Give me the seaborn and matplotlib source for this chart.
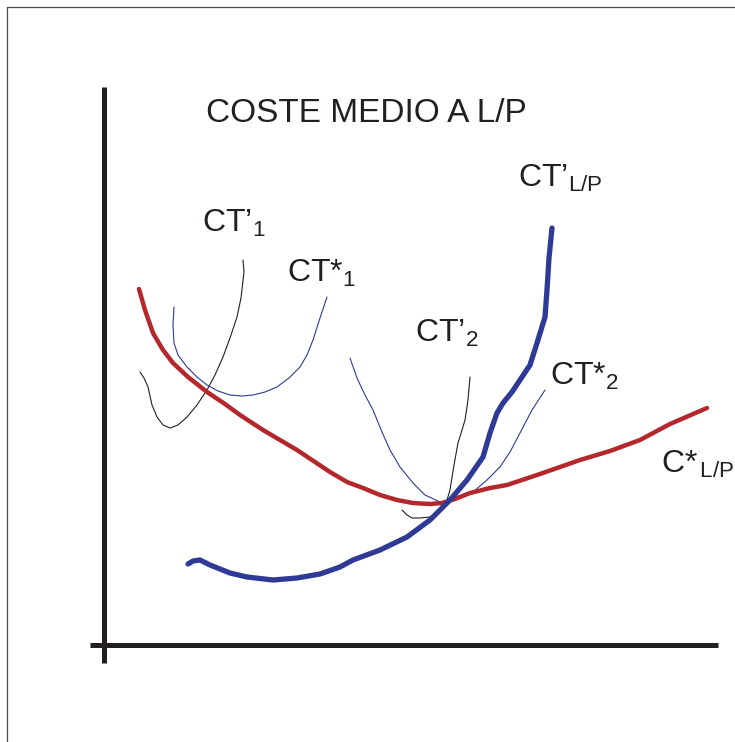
import matplotlib
matplotlib.use("Agg")
import matplotlib.pyplot as plt
import seaborn as sns

sns.set_theme(style="white")
plt.rcParams['font.family'] = ['Liberation Sans', 'DejaVu Sans']
plt.rcParams['mathtext.fontset'] = 'custom'
plt.rcParams['mathtext.rm'] = 'Liberation Sans'
plt.rcParams['mathtext.it'] = 'Liberation Sans'

# posiciones (x a la derecha, y hacia abajo)
marco_x = [7, 7, 735]
marco_y = [742, 7, 7]

eje_v_x = [104, 104]
eje_v_y = [87, 663]
eje_h_x = [90, 718]
eje_h_y = [645, 645]

# C*_L/P (rojo)
rojo_x = [139, 145, 153, 163, 173, 188, 207, 225, 240, 263, 297, 330, 347, 363, 380, 397, 413,
          430, 442, 455, 470, 490, 507, 540, 580, 610, 640, 670, 707]
rojo_y = [289, 310, 333, 350, 363, 377, 392, 404, 415, 430, 450, 472, 482, 488, 495, 500, 503,
          504, 503, 499, 493, 488, 485, 474, 460, 451, 440, 424, 408]

# CT'_L/P (azul grueso)
azul_x = [188, 193, 200, 210, 230, 247, 273, 297, 320, 340, 353, 380, 407, 430, 450, 467, 483,
          490, 497, 503, 512, 520, 530, 537, 541, 545, 547, 549, 552]
azul_y = [564, 561, 560, 565, 573, 577, 580, 578, 574, 567, 560, 550, 537, 520, 500, 480, 457,
          433, 413, 403, 392, 380, 365, 343, 330, 317, 290, 258, 228]

# CT'_1 (negro fino)
ct1p_x = [140, 144, 148, 152, 157, 163, 170, 178, 187, 197, 207, 215, 223, 230, 237, 241, 244, 243]
ct1p_y = [372, 378, 387, 405, 417, 425, 428, 425, 417, 405, 390, 375, 357, 338, 317, 298, 272, 260]

# CT*_1 (azul fino)
ct1s_x = [174, 173, 174, 178, 187, 197, 207, 218, 230, 242, 253, 265, 277, 289, 300, 307, 313,
          320, 327]
ct1s_y = [307, 325, 343, 355, 367, 377, 385, 391, 395, 396, 395, 392, 387, 378, 367, 355, 340,
          318, 297]

# CT*_2 (azul fino)
ct2s_x = [350, 357, 365, 373, 382, 390, 400, 413, 425, 440, 455, 473, 487, 500, 510, 520, 532, 545]
ct2s_y = [358, 378, 395, 410, 432, 450, 467, 483, 495, 502, 500, 492, 480, 467, 452, 433, 410, 390]

# CT'_2 (negro fino)
ct2p_x = [402, 407, 412, 420, 430, 440, 447, 450, 454, 458, 462, 465, 468, 470]
ct2p_y = [510, 515, 518, 518, 517, 510, 500, 490, 465, 443, 430, 420, 400, 377]

etiquetas = ["CT’$_{\\mathrm{1}}$", "CT*$_{\\mathrm{1}}$", "CT’$_{\\mathrm{2}}$",
             "CT*$_{\\mathrm{2}}$", "CT’$_{\\mathrm{L/P}}$", "C*$_{\\,\\mathrm{L/P}}$"]
etiq_x = [202, 287, 415, 550, 518, 661]
etiq_y = [232, 282, 342, 385, 187, 473]

titulo = "COSTE MEDIO A L/P"

NEGRO = "#231F20"
ROJO = "#B3272D"
AZUL = "#2E3A96"

fig = plt.figure(figsize=(7.35, 7.42), dpi=100)
ax = fig.add_axes([0, 0, 1, 1])
ax.set_xlim(0, 735)
ax.set_ylim(742, 0)
ax.axis("off")

ax.plot(marco_x, marco_y, color="#4a4a4a", lw=0.9)

ax.plot(eje_v_x, eje_v_y, color=NEGRO, lw=3.6, solid_capstyle="butt")
ax.plot(eje_h_x, eje_h_y, color=NEGRO, lw=3.6, solid_capstyle="butt")

sns.lineplot(x=ct1p_x, y=ct1p_y, sort=False, estimator=None, color=NEGRO, lw=0.8, ax=ax)
sns.lineplot(x=ct1s_x, y=ct1s_y, sort=False, estimator=None, color=AZUL, lw=0.8, ax=ax)
sns.lineplot(x=ct2s_x, y=ct2s_y, sort=False, estimator=None, color=AZUL, lw=0.8, ax=ax)
sns.lineplot(x=ct2p_x, y=ct2p_y, sort=False, estimator=None, color=NEGRO, lw=0.8, ax=ax)
sns.lineplot(x=rojo_x, y=rojo_y, sort=False, estimator=None, color=ROJO, lw=3.2, ax=ax)
sns.lineplot(x=azul_x, y=azul_y, sort=False, estimator=None, color=AZUL, lw=3.8, ax=ax)

ax.text(206, 122, titulo, fontsize=24, color=NEGRO, ha="left", va="baseline")
for t, x, y in zip(etiquetas, etiq_x, etiq_y):
    ax.text(x, y, t, fontsize=23, color=NEGRO, ha="left", va="baseline")

fig.savefig("out.png", dpi=100)
